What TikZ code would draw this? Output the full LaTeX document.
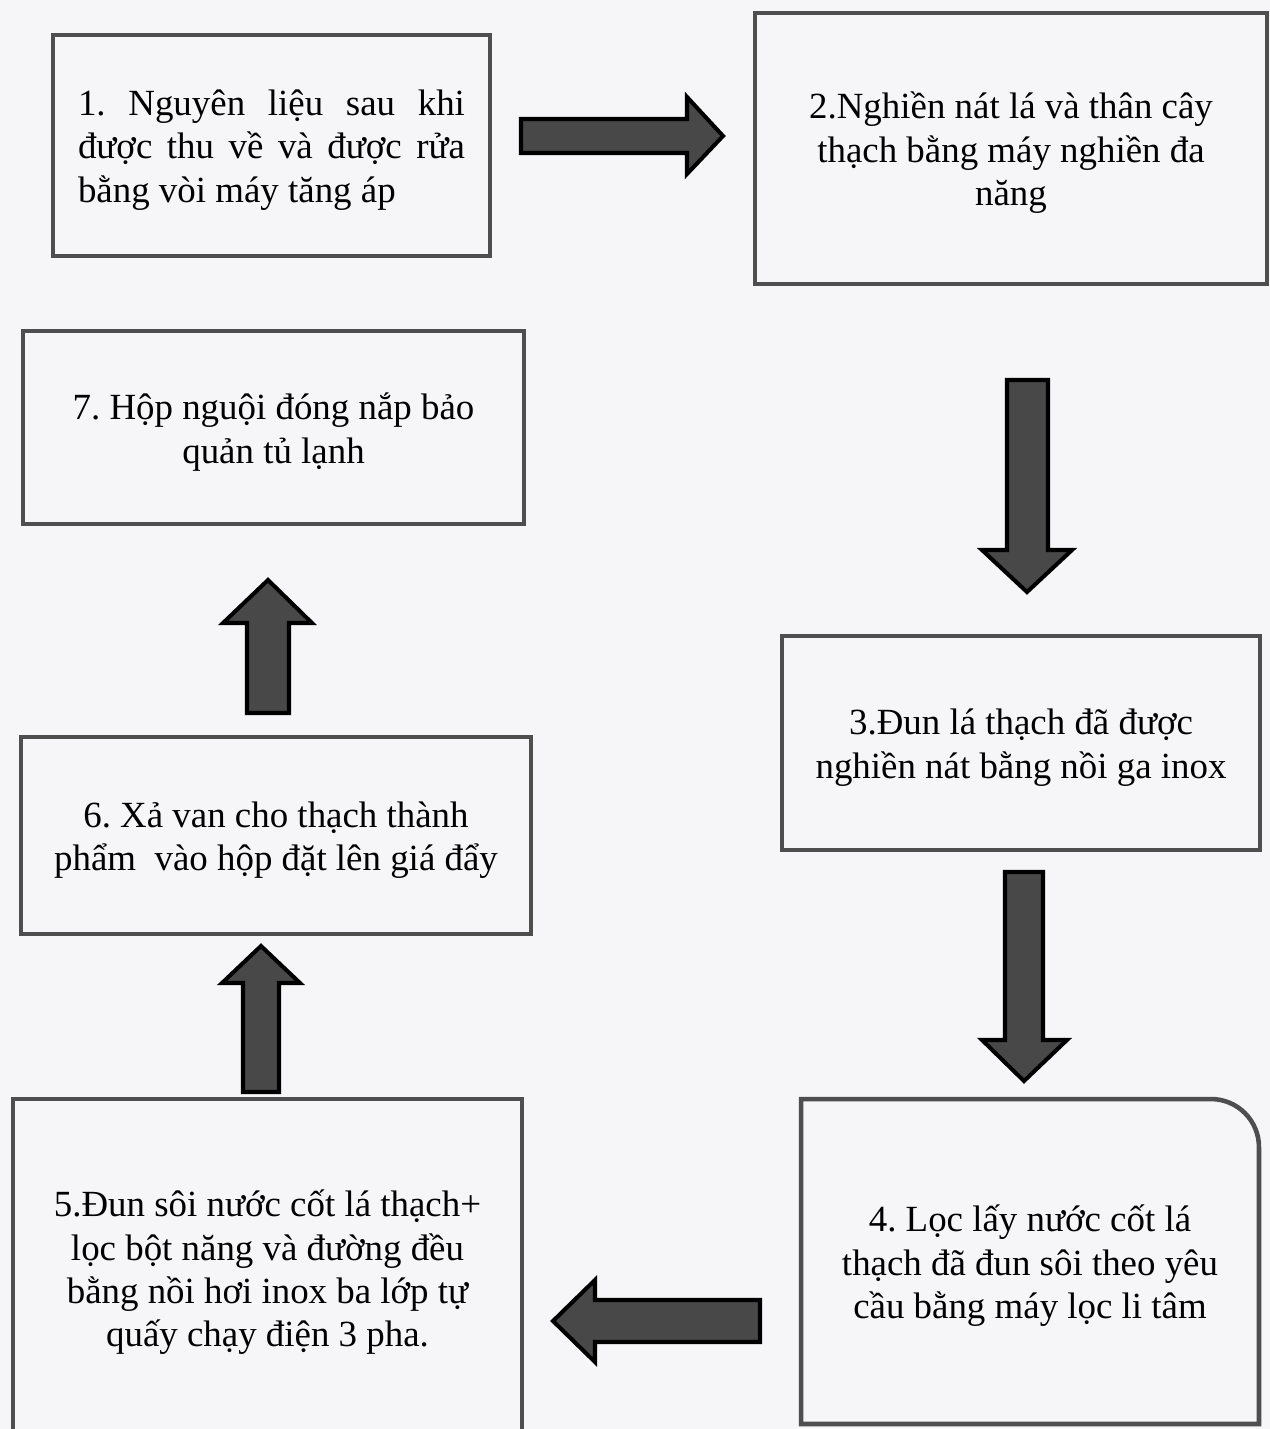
\documentclass[tikz,border=0pt]{standalone}
\usepackage{fontspec}
\setmainfont{Liberation Serif}
\frenchspacing
\usepackage{tikz}
\definecolor{paper}{HTML}{F6F6F9}
\definecolor{frame}{HTML}{4E4E4E}
\definecolor{arrowgray}{HTML}{484848}
\tikzstyle{stepbox}=[draw=frame, line width=2.6pt, outer sep=0pt, inner sep=0pt]
\tikzstyle{steptext}=[align=center, inner sep=0pt, yshift=-0.09cm, font=\fontsize{21}{24.7}\selectfont]
\tikzstyle{fatarrow}=[draw=black, fill=arrowgray, line width=2.3pt, line join=miter]

\begin{document}
\begin{tikzpicture}[x=0.02cm, y=-0.02cm]
\fill[paper] (0,0) rectangle (1270,1429);
\useasboundingbox (0,0) rectangle (1270,1429);

% the seven steps
\node[stepbox, minimum width=8.74cm, minimum height=4.42cm,
  label={[steptext, align=justify, text width=7.74cm]center:1. Nguyên liệu sau khi\linebreak được thu về và được rửa\linebreak bằng vòi máy tăng áp}] (b1) at (271.5,145.5) {};
\node[stepbox, minimum width=10.24cm, minimum height=5.42cm,
  label={[steptext]center:2.Nghiền nát lá và thân cây\\thạch bằng máy nghiền đa\\năng}] (b2) at (1011,148.5) {};
\node[stepbox, minimum width=9.56cm, minimum height=4.28cm,
  label={[steptext]center:3.Đun lá thạch đã được\\nghiền nát bằng nồi ga inox}] (b3) at (1021,743) {};
\node[stepbox, draw=none, minimum width=9.16cm, minimum height=6.5cm,
  label={[steptext]center:4. Lọc lấy nước cốt lá\\thạch đã đun sôi theo yêu\\cầu bằng máy lọc li tâm}] (b4) at (1030,1261.5) {};
\node[stepbox, minimum width=10.18cm, minimum height=6.76cm,
  label={[steptext]center:5.Đun sôi nước cốt lá thạch+\\lọc bột năng và đường đều\\bằng nồi hơi inox ba lớp tự\\quấy chạy điện 3 pha.}] (b5) at (267.5,1268) {};
\node[stepbox, minimum width=10.2cm, minimum height=3.94cm,
  label={[steptext]center:6. Xả van cho thạch thành\\phẩm\ \ vào hộp đặt lên giá đẩy}] (b6) at (276,835.5) {};
\node[stepbox, minimum width=10.02cm, minimum height=3.86cm,
  label={[steptext]center:7. Hộp nguội đóng nắp bảo\\quản tủ lạnh}] (b7) at (273.5,427.5) {};

% box 4 has one round corner
\draw[draw=frame, line width=2.6pt, rounded corners=0.96cm] (b4.north) -- (b4.north east) -- (b4.east)
  [sharp corners] -- (b4.south east) -- (b4.south west) -- (b4.north west) -- cycle;

% block arrows
\draw[fatarrow] (521,119) -- (687,119) -- (687,97) -- (723,136) -- (687,174) -- (687,153) -- (521,153) -- cycle;
\draw[fatarrow] (1007,380) -- (1048,380) -- (1048,550) -- (1072,550) -- (1027,592) -- (982,550) -- (1007,550) -- cycle;
\draw[fatarrow] (1005,872) -- (1043,872) -- (1043,1040) -- (1067,1040) -- (1024,1081) -- (982,1040) -- (1005,1040) -- cycle;
\draw[fatarrow] (760,1300) -- (595,1300) -- (595,1280) -- (553,1321) -- (595,1362) -- (595,1342) -- (760,1342) -- cycle;
\draw[fatarrow] (243,1092) -- (243,983) -- (222,983) -- (261,946) -- (300,983) -- (279,983) -- (279,1092) -- cycle;
\draw[fatarrow] (247,713) -- (247,623) -- (223,623) -- (268,580) -- (312,623) -- (289,623) -- (289,713) -- cycle;
\end{tikzpicture}
\end{document}
